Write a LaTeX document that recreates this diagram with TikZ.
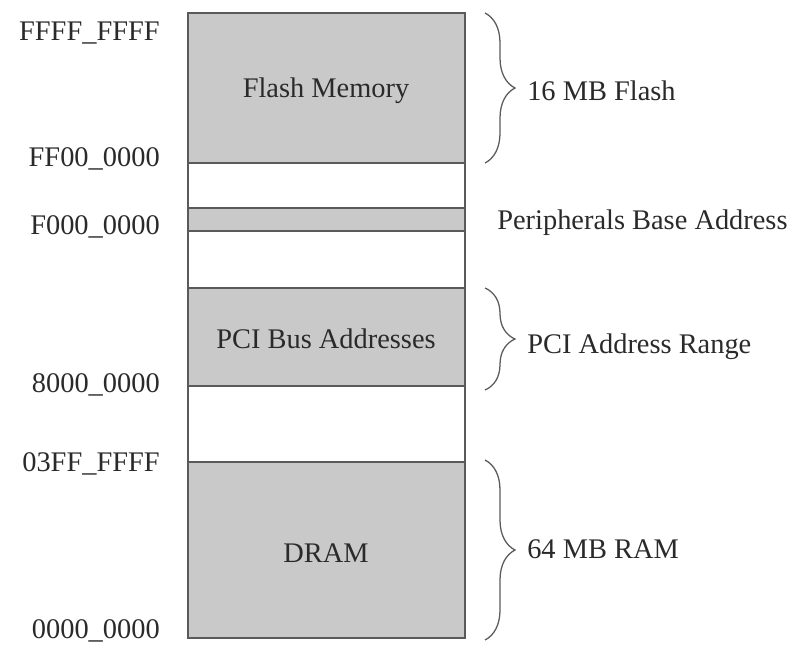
\documentclass[tikz,border=0pt]{standalone}
\usepackage{fontspec}
\setmainfont{Liberation Serif}
\usetikzlibrary{decorations.pathreplacing}
\definecolor{boxgray}{HTML}{C9C9C9}
\definecolor{linegray}{HTML}{5A5A5A}
\definecolor{textgray}{HTML}{2A2A2A}
\tikzset{
  seg/.style={fill=boxgray},
  addr/.style={anchor=base east,inner sep=0pt,text=textgray},
  lbl/.style={anchor=base,inner sep=0pt,text=textgray},
  note/.style={anchor=base west,inner sep=0pt,text=textgray},
  brc/.style={draw=linegray,line width=0.9pt,decorate,
    decoration={brace,amplitude=0.75cm}}
}
\begin{document}
\begin{tikzpicture}[x=0.025cm,y=-0.025cm,font=\fontsize{20.2}{24}\selectfont]
\useasboundingbox (0,0) rectangle (795,646);
% filled regions
\fill[seg] (188,13) rectangle (465,163);
\fill[seg] (188,208) rectangle (465,231);
\fill[seg] (188,288) rectangle (465,386);
\fill[seg] (188,462) rectangle (465,638);
\begin{scope}[draw=linegray,line width=1.2pt]
\draw (188,13) rectangle (465,638);
\foreach \y in {163,208,231,288,386,462}
  \draw (188,\y) -- (465,\y);
\end{scope}
% region names
\node[lbl] (flash) at (326,97) {Flash Memory};
\node[lbl] (pci) at (326,348) {PCI Bus Addresses};
\node[lbl] (dram) at (326,562) {DRAM};
% addresses
\node[addr] (a1) at (160,40) {FFFF\_FFFF};
\node[addr] (a2) at (160,166) {FF00\_0000};
\node[addr] (a3) at (160,234) {F000\_0000};
\node[addr] (a4) at (160,392) {8000\_0000};
\node[addr] (a5) at (160,471) {03FF\_FFFF};
\node[addr] (a6) at (160,638) {0000\_0000};
% braces
\coordinate (fT) at (485,13);
\coordinate (fB) at (485,163);
\coordinate (pT) at (485,288);
\coordinate (pB) at (485,390);
\coordinate (rT) at (485,460);
\coordinate (rB) at (485,640);
\draw[brc] (fT) -- (fB);
\draw[brc] (pT) -- (pB);
\draw[brc] (rT) -- (rB);
\node[note] (n1) at (527,100) {16 MB Flash};
\node[note] (n2) at (497,229) {Peripherals Base Address};
\node[note] (n3) at (527,353) {PCI Address Range};
\node[note] (n4) at (527,558) {64 MB RAM};
\end{tikzpicture}
\end{document}
